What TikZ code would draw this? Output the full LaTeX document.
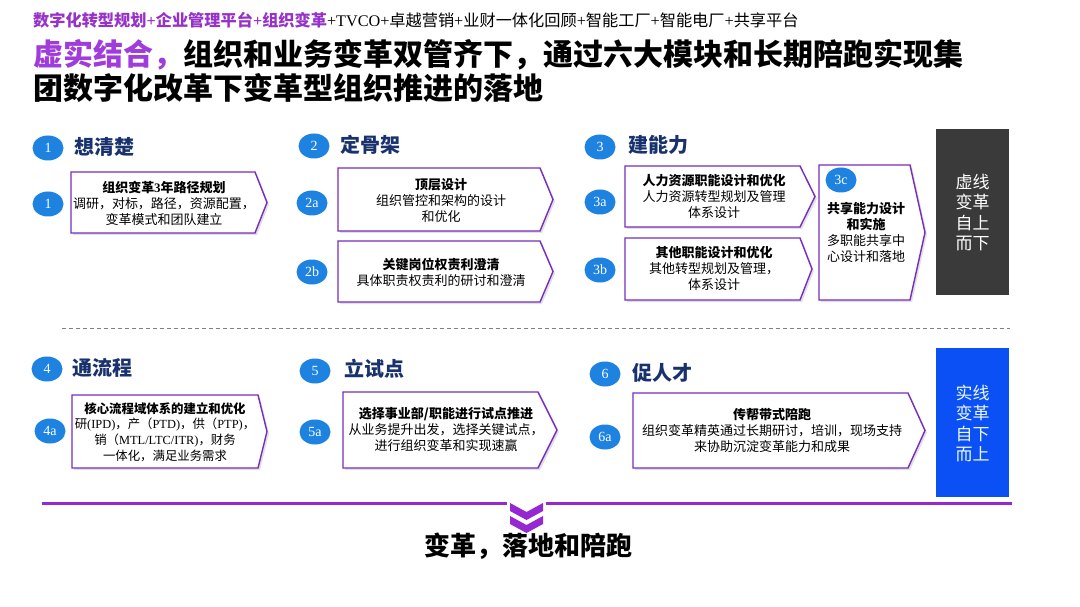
\documentclass[tikz,border=0pt]{standalone}
\usepackage{fontspec}
\setmainfont{Liberation Serif}
\newfontfamily\cjk{Noto Sans CJK SC}
\newfontfamily\latfont{Liberation Serif}
\newcommand\lat[1]{{\latfont #1}}
\usetikzlibrary{shapes.geometric}
\definecolor{hdrpurple}{RGB}{150,50,200}
\definecolor{ttlpurple}{RGB}{160,60,220}
\definecolor{boxpurple}{RGB}{120,45,190}
\definecolor{numblue}{RGB}{30,130,225}
\definecolor{secnavy}{RGB}{25,50,110}
\definecolor{darkbox}{RGB}{58,58,58}
\definecolor{brightblue}{RGB}{10,80,245}
\definecolor{linepurple}{RGB}{150,40,210}
\newcommand\pentpath[5]{%
  \fill[black,opacity=0.12] ({#1+2},{#2+2}) -- ({#3+2},{#2+2}) -- ({#4+2},{(#2+#5)/2+2}) -- ({#3+2},{#5+2}) -- ({#1+2},{#5+2}) -- cycle;
  \draw[pentbox] (#1,#2) -- (#3,#2) -- (#4,{(#2+#5)/2}) -- (#3,#5) -- (#1,#5) -- cycle;}
\begin{document}
\begin{tikzpicture}[x=1pt,y=-1pt,
  pentbox/.style={draw=boxpurple,line width=1.4pt,fill=white,line join=miter},
  numdot/.style={ellipse,fill=numblue,text=white,minimum width=31pt,minimum height=25pt,inner sep=0pt,font={\latfont\fontsize{14}{14}\selectfont}},
  seclabel/.style={anchor=west,text=secnavy,inner sep=0pt,font={\cjk\bfseries\fontsize{20}{20}\selectfont}},
  boxtext/.style={align=center,inner sep=0pt,font={\cjk\fontsize{13}{16}\selectfont}},
  sidetext/.style={align=center,inner sep=0pt,font={\cjk\fontsize{17}{20.5}\selectfont}}]
\useasboundingbox (0,0) rectangle (1080,607);
\fill[white] (0,0) rectangle (1080,607);

% header
\node[anchor=west,inner sep=0pt,font={\cjk\fontsize{16.2}{18}\selectfont}] (hdr) at (33,20)
  {{\bfseries\color{hdrpurple}数字化转型规划\lat{+}企业管理平台\lat{+}组织变革}\lat{+TVCO+}卓越营销\lat{+}业财一体化回顾\lat{+}智能工厂\lat{+}智能电厂\lat{+}共享平台};
\node[anchor=west,inner sep=0pt,font={\cjk\bfseries\fontsize{30}{30}\selectfont}] (t1) at (33,55)
  {{\color{ttlpurple}虚实结合，}组织和业务变革双管齐下，通过六大模块和长期陪跑实现集};
\node[anchor=west,inner sep=0pt,font={\cjk\bfseries\fontsize{30}{30}\selectfont}] (t2) at (33,88)
  {团数字化改革下变革型组织推进的落地};

% section 1
\node[numdot] (n1) at (48,148) {1};
\node[seclabel] (s1) at (74,147) {想清楚};
\pentpath{71}{172}{255}{267}{233}
\node[numdot] (n1a) at (48,204) {1};
\node[boxtext] (b1) at (164,203) {\bfseries 组织变革\lat{3}年路径规划\\调研，对标，路径，资源配置，\\变革模式和团队建立};

% section 2
\node[numdot] (n2) at (314,146) {2};
\node[seclabel] (s2) at (340,145) {定骨架};
\pentpath{338}{168}{540}{553}{231}
\node[numdot] (n2a) at (312,203) {2a};
\node[boxtext] (b2a) at (441,200) {\bfseries 顶层设计\\组织管控和架构的设计\\和优化};
\pentpath{338}{241}{540}{553}{302}
\node[numdot] (n2b) at (312,272) {2b};
\node[boxtext] (b2b) at (441,272) {\bfseries 关键岗位权责利澄清\\具体职责权责利的研讨和澄清};

% section 3
\node[numdot] (n3) at (600,147) {3};
\node[seclabel] (s3) at (628,145) {建能力};
\pentpath{625}{166}{800}{815}{227}
\node[numdot] (n3a) at (600,202) {3a};
\node[boxtext] (b3a) at (714,196) {\bfseries 人力资源职能设计和优化\\人力资源转型规划及管理\\体系设计};
\pentpath{625}{238}{800}{812}{300}
\node[numdot] (n3b) at (600,270) {3b};
\node[boxtext] (b3b) at (714,268) {\bfseries 其他职能设计和优化\\其他转型规划及管理，\\体系设计};
\pentpath{819}{165}{910}{925}{300}
\node[numdot] (n3c) at (841,180) {3c};
\node[boxtext] (b3c) at (866,232) {\bfseries 共享能力设计\\\bfseries 和实施\\多职能共享中\\心设计和落地};

% right side boxes
\node[draw=none,fill=darkbox,minimum width=73pt,minimum height=166pt,inner sep=0pt] (vbox) at (972.5,212) {};
\node[sidetext,text=white] (vtxt) at (972.5,212.5) {虚线\\变革\\自上\\而下};

\draw[gray,dashed,line width=0.8pt,dash pattern=on 4pt off 3pt] (62,328) coordinate (dl) -- (1010,328) coordinate (dr);

\node[draw=none,fill=brightblue,minimum width=73pt,minimum height=149pt,inner sep=0pt] (sbox) at (972.5,422.5) {};
\node[sidetext,text=white!92!cyan] (stxt) at (972.5,423.5) {实线\\变革\\自下\\而上};

% section 4
\node[numdot] (n4) at (47,369) {4};
\node[seclabel] (s4) at (72,368) {通流程};
\pentpath{72}{395}{258}{267}{468}
\node[numdot] (n4a) at (50,431) {4a};
\node[boxtext,font={\cjk\fontsize{12.4}{15.6}\selectfont}] (b4a) at (165,432) {\bfseries 核心流程域体系的建立和优化\\研\lat{(IPD)}，产（\lat{PTD)}，供（\lat{PTP)}，\\销（\lat{MTL/LTC/ITR)}，财务\\一体化，满足业务需求};

% section 5
\node[numdot] (n5) at (315,371) {5};
\node[seclabel] (s5) at (344,369) {立试点};
\pentpath{343}{392}{538}{557}{468}
\node[numdot] (n5a) at (315,432) {5a};
\node[boxtext] (b5a) at (446,429) {\bfseries 选择事业部/职能进行试点推进\\从业务提升出发，选择关键试点，\\进行组织变革和实现速赢};

% section 6
\node[numdot] (n6) at (605,374) {6};
\node[seclabel] (s6) at (632,373) {促人才};
\pentpath{633}{393}{908}{925}{468}
\node[numdot] (n6a) at (605,437) {6a};
\node[boxtext] (b6a) at (772,430) {\bfseries 传帮带式陪跑\\组织变革精英通过长期研讨，培训，现场支持\\来协助沉淀变革能力和成果};

% bottom line and chevrons
\draw[linepurple,line width=3pt] (42,503) coordinate (pl) -- (1012,503) coordinate (pr);
\fill[white] (507,500) rectangle (546,506);
\fill[linepurple] (510,503) -- (526.5,512) -- (543,503) -- (543,511) -- (526.5,520) -- (510,511) -- cycle;
\fill[linepurple] (510,516) -- (526.5,525) -- (543,516) -- (543,524) -- (526.5,533) -- (510,524) -- cycle;
\node[inner sep=0pt,font={\cjk\bfseries\fontsize{26}{26}\selectfont}] (btm) at (528,546) {变革，落地和陪跑};
\end{tikzpicture}
\end{document}
